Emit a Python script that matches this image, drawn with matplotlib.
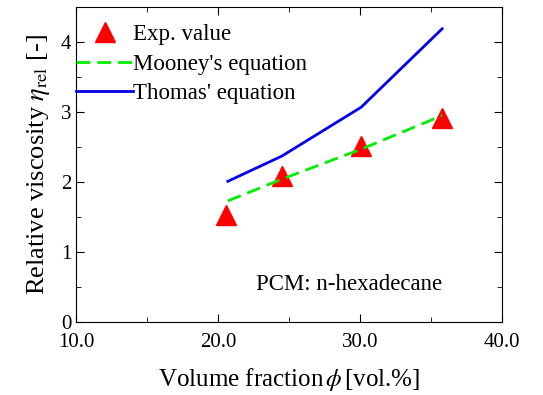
import matplotlib
matplotlib.use('Agg')
from matplotlib import pyplot as plt
from matplotlib.ticker import MultipleLocator, FormatStrFormatter

# date
phi_exp = [20.6, 24.5, 30.1, 35.8]
eta_exp = [1.53, 2.09, 2.52, 2.92]
phi_model = [20.7, 24.5, 30.1, 35.8]
eta_mooney = [1.73, 2.04, 2.47, 2.95]
eta_thomas = [2.01, 2.37, 3.07, 4.19]

plt.rcParams['font.family'] = ['Liberation Serif', 'DejaVu Serif']
plt.rcParams['mathtext.fontset'] = 'stix'

fig = plt.figure(figsize=(5.43, 3.95), dpi=100)
ax = fig.add_axes([0.14, 0.185, 0.784, 0.797])

ax.plot(phi_exp, eta_exp, linestyle='none', marker='^', markersize=15,
        color='red', label='Exp. value')
ax.plot(phi_model, eta_mooney, linestyle='--', dashes=(5, 2.5), linewidth=2,
        color='#00ee00', label="Mooney's equation")
ax.plot(phi_model, eta_thomas, linestyle='-', linewidth=2,
        color='#0000ee', label="Thomas' equation")

ax.set_xlim(10, 40)
ax.set_ylim(0, 4.5)
ax.xaxis.set_major_locator(MultipleLocator(10))
ax.xaxis.set_minor_locator(MultipleLocator(5))
ax.xaxis.set_major_formatter(FormatStrFormatter('%.1f'))
ax.yaxis.set_major_locator(MultipleLocator(1))
ax.yaxis.set_minor_locator(MultipleLocator(0.5))
ax.tick_params(which='both', direction='in', top=True, right=True, labelsize=15)
ax.tick_params(which='major', length=6)
ax.tick_params(which='minor', length=3.5)
ax.tick_params(axis='x', pad=8)

ax.set_xlabel(r'Volume fraction$\,\phi\,$[vol.%]', fontsize=18, labelpad=10)
ax.set_ylabel(r'Relative viscosity $\eta_{\mathrm{rel}}$ [-]', fontsize=19, labelpad=6)

ax.text(0.86, 0.12, 'PCM: n-hexadecane', transform=ax.transAxes,
        ha='right', va='center', fontsize=16.5)

ax.legend(loc='upper left', bbox_to_anchor=(0.0, 0.945), frameon=False,
          fontsize=16.5, borderaxespad=0.0, handlelength=2.5,
          handletextpad=0.0, labelspacing=0.35, borderpad=0.0)

plt.savefig('out.png', dpi=100)
